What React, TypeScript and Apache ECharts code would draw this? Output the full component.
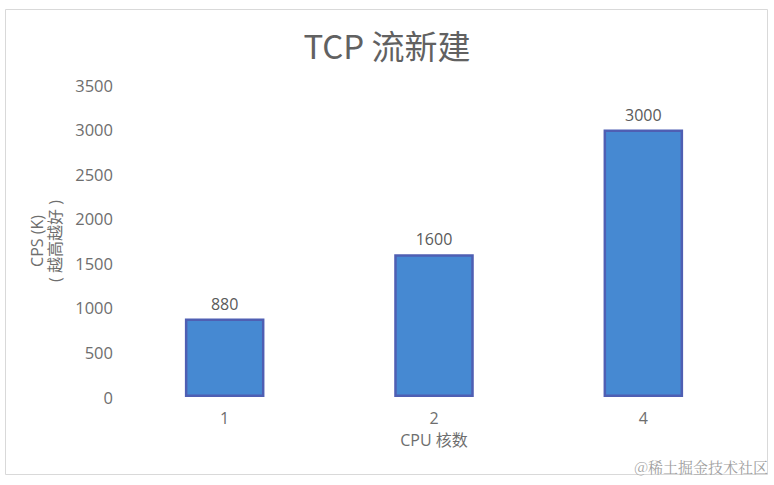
import React, { useEffect, useRef } from "react";
import * as echarts from "echarts";

const categories = ["1", "2", "4"];
const values = [880, 1600, 3000];
const yMin = 0;
const yMax = 3500;
const yInterval = 500;
const titleText = "TCP 流新建";
const xName = "CPU 核数";
const yName = "CPS (K)\n( 越高越好 )";
const watermark = "@稀土掘金技术社区";

export default function App() {
  const ref = useRef<HTMLDivElement>(null);
  useEffect(() => {
    if (!ref.current) return;
    const chart = echarts.init(ref.current, undefined, { renderer: "svg" });
    const font = "'Open Sans', 'Noto Sans CJK SC', sans-serif";
    chart.setOption({
      animation: false,
      backgroundColor: "#ffffff",
      textStyle: { fontFamily: font },
      title: {
        text: titleText,
        left: "center",
        top: 23,
        textStyle: {
          fontFamily: "'Noto Sans CJK SC', sans-serif",
          fontSize: 33,
          fontWeight: "normal",
          color: "#616161",
        },
      },
      grid: { left: 120, right: 26, top: 85, bottom: 88 },
      xAxis: {
        type: "category",
        data: categories,
        name: xName,
        nameLocation: "middle",
        nameGap: 35,
        nameTextStyle: { fontSize: 16, color: "#6e6e6e", fontFamily: font },
        axisLine: { show: false },
        axisTick: { show: false },
        axisLabel: { fontSize: 16, color: "#6e6e6e", margin: 13 },
      },
      yAxis: {
        type: "value",
        min: yMin,
        max: yMax,
        interval: yInterval,
        name: yName,
        nameLocation: "middle",
        nameRotate: 90,
        nameGap: 48,
        nameTextStyle: { fontSize: 16, color: "#6e6e6e", lineHeight: 18, fontFamily: font },
        axisLine: { show: false },
        axisTick: { show: false },
        splitLine: { show: false },
        axisLabel: {
          fontSize: 16.5,
          color: "#6e6e6e",
          margin: 7,
          formatter: (v: number) => String(v),
        },
      },
      series: [
        {
          type: "bar",
          data: values,
          barWidth: "38%",
          itemStyle: {
            color: "#4689d2",
            borderColor: "#4f5fb3",
            borderWidth: 2.5,
          },
          label: {
            show: true,
            position: "top",
            distance: 7,
            fontSize: 16,
            color: "#5a5a5a",
          },
        },
      ],
      graphic: [
        {
          type: "rect",
          shape: { x: 5.5, y: 9.5, width: 762, height: 465 },
          style: { fill: "none", stroke: "#d9d9d9", lineWidth: 1 },
          silent: true,
        },
        {
          type: "text",
          right: 6,
          top: 459,
          style: {
            text: watermark,
            fontSize: 15,
            fill: "#a0a0a0",
            fontFamily: "'Noto Serif CJK SC', 'Noto Sans CJK SC', serif",
          },
        },
      ],
    });
    return () => chart.dispose();
  }, []);
  return (
    <div
      ref={ref}
      style={{ position: "fixed", left: 0, top: 0, width: 774, height: 485 }}
    />
  );
}
